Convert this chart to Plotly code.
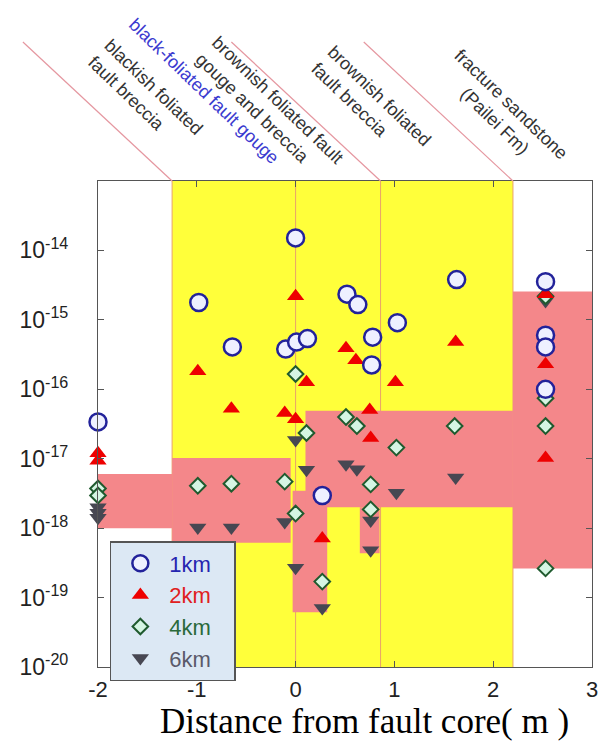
import plotly.graph_objects as go

# ---------------- data ----------------
x_1km = [-2, -0.98, -0.64, -0.10, 0.01, 0.12, 0.0, 0.27, 0.52, 0.63, 0.78, 0.77, 1.03, 1.63, 2.53, 2.53, 2.53, 2.53]
logk_1km = [-16.47, -14.75, -15.39, -15.42, -15.32, -15.27, -13.82, -17.53, -14.63, -14.78, -15.25, -15.65, -15.04, -14.42, -14.45, -15.22, -15.39, -16.0]

x_2km = [-2, -2, -0.99, -0.65, -0.11, 0.0, 0.0, 0.11, 0.27, 0.51, 0.61, 0.75, 0.76, 1.01, 1.62, 2.53, 2.53, 2.53]
logk_2km = [-16.92, -17.03, -15.74, -16.28, -16.34, -14.66, -16.43, -15.90, -18.15, -15.41, -15.58, -16.30, -16.70, -15.90, -15.32, -14.63, -15.64, -16.99]

x_4km = [-2, -2, -0.99, -0.65, -0.11, 0.0, 0.0, 0.11, 0.27, 0.51, 0.62, 0.76, 0.76, 1.02, 1.61, 2.53, 2.53, 2.53, 2.53]
logk_4km = [-17.43, -17.53, -17.39, -17.36, -17.33, -15.78, -17.79, -16.63, -18.77, -16.40, -16.53, -17.37, -17.73, -16.84, -16.53, -14.66, -16.13, -16.53, -18.58]

x_6km = [-2, -2, -2, -0.99, -0.65, -0.11, 0.0, 0.11, 0.0, 0.27, 0.51, 0.62, 0.76, 0.76, 1.02, 1.62, 2.53]
logk_6km = [-17.70, -17.78, -17.85, -17.99, -17.99, -17.91, -16.73, -17.16, -18.57, -19.15, -17.08, -17.15, -17.89, -18.32, -17.49, -17.27, -14.73]

# zone boundaries (m) and yellow fault-zone extent
zone_bounds = [-1.25, 0.0, 0.86, 2.2]
yellow_zone = (-1.25, 2.2)

# permeability range blocks: (x0, x1, log k min, log k max)
range_x0 = [-2.0, -1.25, -0.03, 0.10, 0.65, 2.2]
range_x1 = [-1.25, -0.05, 0.32, 2.2, 0.85, 3.0]
range_lo = [-18.0, -18.21, -19.21, -17.70, -18.36, -18.58]
range_hi = [-17.22, -16.99, -17.46, -16.31, -17.70, -14.59]

x_ticks = [-2, -1, 0, 1, 2, 3]
y_tick_exp = [-20, -19, -18, -17, -16, -15, -14]

zone_labels = [
    "blackish foliated<br>fault breccia",
    "black-foliated fault gouge",
    "brownish foliated fault<br>gouge and breccia",
    "brownish foliated<br>fault breccia",
    "fracture sandstone<br>(Pailei Fm)",
]

# ---------------- figure ----------------
W, H = 604, 747
L, R, T, B = 98, 6, 181, 80
pw, ph = W - L - R, H - T - B

def px2paper(px, py):
    return (px - L) / pw, (H - B - py) / ph

YELLOW = "#FFFF3A"
PINK = "#F4878A"
LINE = "#E9A36A"

fig = go.Figure()

shapes = []
shapes.append(dict(type="rect", xref="x", yref="paper", x0=yellow_zone[0], x1=yellow_zone[1],
                   y0=0, y1=1, fillcolor=YELLOW, line_width=0, layer="below"))
for x0, x1, lo, hi in zip(range_x0, range_x1, range_lo, range_hi):
    shapes.append(dict(type="rect", xref="x", yref="y", x0=x0, x1=x1, y0=10 ** lo, y1=10 ** hi,
                       fillcolor=PINK, line_width=0, layer="below"))
for xb in zone_bounds:
    shapes.append(dict(type="line", xref="x", yref="paper", x0=xb, x1=xb, y0=0, y1=1,
                       line=dict(color=LINE, width=1), layer="below"))
# diagonal leader lines above the plot
for xb in [-1.25, 0.86, 2.2]:
    bx = L + (xb + 2) / 5 * pw
    x0p, y0p = px2paper(bx - 151, 42)
    x1p, y1p = px2paper(bx, T)
    shapes.append(dict(type="line", xref="paper", yref="paper", x0=x0p, y0=y0p, x1=x1p, y1=y1p,
                       line=dict(color="#E597A0", width=1.2)))

NB = "\u00a0"

def add(name, xs, ys, symbol, size, fill, edge, lw, color_txt):
    fig.add_trace(go.Scatter(
        x=xs, y=[10 ** v for v in ys], mode="markers", cliponaxis=False,
        name=f'<span style="color:{color_txt}">{name}</span>' + NB * 3,
        marker=dict(symbol=symbol, size=size, color=fill, line=dict(color=edge, width=lw)),
    ))

add("6km", x_6km, logk_6km, "triangle-down", 15, "#474752", "#474752", 0, "#5A5A6A")
add("4km", x_4km, logk_4km, "diamond", 12, "#D5F5E3", "#1F5A2E", 2, "#2A6A3A")
add("2km", x_2km, logk_2km, "triangle-up", 15, "#EE0000", "#EE0000", 0, "#E02020")
add("1km", x_1km, logk_1km, "circle", 17, "#EEF0FF", "#22229A", 2.5, "#2525B0")

annos = []
label_pos = [(146, 96), (205, 91), (272, 108), (375, 104), (508, 112)]
label_col = ["#333333", "#3A3ACF", "#333333", "#333333", "#333333"]
label_align = ["left", "left", "left", "left", "center"]
for txt, (cx, cy), col, al in zip(zone_labels, label_pos, label_col, label_align):
    xp, yp = px2paper(cx, cy)
    annos.append(dict(text=txt, x=xp, y=yp, xref="paper", yref="paper", showarrow=False,
                      textangle=44, xanchor="center", yanchor="middle", align=al,
                      font=dict(family="Liberation Sans, Arial", size=18, color=col)))
xp, yp = px2paper(368, 721)
annos.append(dict(text="Distance from fault core( m )", x=xp, y=yp, xref="paper", yref="paper",
                  showarrow=False, xanchor="center", yanchor="middle",
                  font=dict(family="Liberation Serif, Times New Roman, serif", size=35, color="#000")))

lx, ly = px2paper(110, 541)
fig.update_layout(
    width=W, height=H, margin=dict(l=L, r=R, t=T, b=B, pad=0),
    paper_bgcolor="white", plot_bgcolor="white",
    shapes=shapes, annotations=annos,
    font=dict(family="Liberation Sans, Arial", size=20, color="#222"),
    showlegend=True,
    legend=dict(x=lx, y=ly, xanchor="left", yanchor="top", traceorder="reversed",
                bgcolor="#DCE8F4", bordercolor="#555555", borderwidth=1.5,
                font=dict(size=22), itemsizing="trace", itemwidth=48, tracegroupgap=0),
    xaxis=dict(range=[-2, 3], tickvals=x_ticks, ticktext=[str(v) for v in x_ticks],
               ticks="inside", ticklen=6, tickcolor="#555", mirror="ticks", showline=True,
               linecolor="#555", linewidth=1.2, showgrid=False, zeroline=False,
               tickfont=dict(size=22, color="#222"), ticklabelstandoff=2,
               ticklabeloverflow="allow"),
    yaxis=dict(type="log", range=[-20, -13], tickvals=[10 ** e for e in y_tick_exp],
               ticktext=[f"10<sup>{e}</sup>" for e in y_tick_exp],
               ticks="inside", ticklen=6, tickcolor="#555", mirror="ticks", showline=True,
               linecolor="#555", linewidth=1.2, showgrid=False, zeroline=False,
               tickfont=dict(size=23, color="#222"), ticklabelstandoff=24),
)

fig.write_html("out.html")
